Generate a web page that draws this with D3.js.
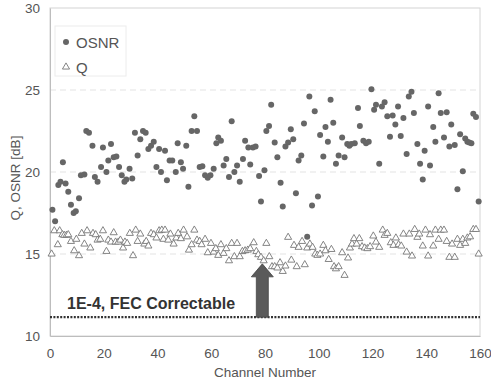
<!DOCTYPE html>
<html>
<head>
<meta charset="utf-8">
<script src="https://cdn.jsdelivr.net/npm/d3@7"></script>
<style>
  body { margin: 0; background: #fff; }
  text { font-family: "Liberation Sans", Arial, sans-serif; }
</style>
</head>
<body>
<div id="chart"></div>
<script>
// OSNR (dots): channel and value in dB
const osnrChannel = [0.9, 1.9, 3.1, 3.9, 4.8, 5.8, 6.8, 7.8, 8.8, 9.6, 10.8, 11.5, 12.8, 13.5, 14.5, 15.8, 16.7, 17.7, 19.0, 19.7,
  21.0, 21.7, 22.7, 23.7, 24.7, 25.7, 26.7, 27.7, 28.4, 29.6, 30.6, 31.6, 32.6, 33.6, 34.6, 35.6, 36.6, 37.6, 38.6, 39.6,
  40.6, 41.3, 42.8, 43.5, 44.5, 45.5, 46.8, 47.5, 48.7, 49.5, 50.7, 51.5, 52.7, 53.7, 54.7, 55.7, 56.7, 57.7, 58.7, 59.7,
  60.9, 61.9, 62.6, 63.6, 64.6, 65.6, 66.6, 67.6, 68.6, 69.6, 70.6, 71.8, 72.6, 73.8, 74.5, 75.5, 76.5, 77.8, 78.5, 79.8,
  80.5, 81.5, 82.3, 83.6, 84.6, 85.8, 86.6, 87.6, 88.6, 89.6, 90.5, 91.5, 92.5, 93.5, 94.5, 95.7, 96.5, 97.5, 98.5, 99.7,
  100.5, 101.7, 102.5, 103.4, 104.4, 105.4, 106.4, 107.4, 108.7, 109.6, 110.6, 111.4, 112.1, 113.4, 114.6, 115.3, 116.6, 117.6, 118.6, 119.6,
  120.6, 121.3, 122.5, 123.5, 124.5, 125.5, 126.5, 127.5, 128.5, 129.5, 130.5, 131.5, 132.7, 133.5, 134.5, 135.4, 136.7, 137.7, 138.7, 139.4,
  140.7, 141.4, 142.6, 143.4, 144.6, 145.4, 146.6, 147.6, 148.6, 149.3, 150.6, 151.6, 152.6, 153.6, 154.5, 155.3, 156.0, 156.8, 157.5, 158.5, 159.5];
const osnrValue = [17.7, 17.0, 19.2, 19.4, 20.6, 19.3, 18.8, 18.0, 17.5, 17.6, 18.4, 19.8, 19.85, 22.5, 22.4, 21.6, 19.7, 19.4, 20.3, 21.5,
  20.0, 20.7, 21.7, 20.9, 20.95, 20.3, 19.8, 19.4, 19.55, 20.2, 19.6, 22.4, 21.0, 22.0, 22.5, 22.4, 21.4, 21.6, 21.85, 20.3,
  21.4, 20.0, 21.3, 19.5, 20.7, 20.7, 20.0, 21.75, 20.6, 20.2, 21.6, 19.1, 22.5, 23.4, 22.5, 20.3, 20.35, 19.8, 19.65, 19.8,
  20.2, 21.75, 22.1, 21.9, 20.4, 20.8, 19.7, 23.1, 20.0, 20.4, 19.4, 20.8, 21.9, 21.5, 20.45, 21.5, 21.55, 19.75, 18.2, 20.1,
  22.5, 22.8, 24.1, 21.8, 20.9, 19.35, 17.9, 21.55, 21.8, 22.6, 22.0, 18.7, 20.7, 21.0, 22.95, 16.05, 24.6, 17.95, 23.7, 18.5,
  22.25, 20.95, 22.75, 21.85, 24.4, 23.0, 20.5, 21.0, 22.1, 20.9, 21.7, 21.6, 21.7, 21.75, 23.9, 22.8, 21.9, 21.75, 21.85, 25.05,
  23.8, 24.1, 20.5, 24.0, 24.25, 23.4, 22.15, 23.45, 22.9, 24.0, 22.2, 23.3, 21.1, 24.6, 24.9, 23.6, 21.7, 20.5, 19.55, 21.3,
  24.0, 20.4, 22.75, 21.85, 24.8, 23.6, 22.1, 23.65, 21.55, 22.9, 21.65, 18.95, 22.3, 20.05, 22.05, 21.85, 21.8, 21.75, 23.55, 23.35, 18.2];

// Q (triangles): channel and value in dB
const qChannel = [0.6, 1.6, 2.9, 3.6, 4.6, 5.3, 6.1, 6.8, 7.8, 9.0, 9.8, 10.8, 11.8, 12.8, 13.8, 15.0, 16.0, 17.0, 17.7, 18.7,
  19.7, 21.0, 21.7, 22.7, 23.7, 24.4, 25.4, 26.2, 27.2, 27.9, 28.7, 29.7, 30.9, 31.9, 32.6, 33.6, 35.1, 35.8, 36.6, 37.6,
  38.6, 39.6, 40.6, 41.6, 42.2, 42.8, 44.0, 44.8, 46.0, 47.0, 47.7, 48.7, 49.7, 51.0, 51.7, 52.7, 53.7, 54.7, 55.7, 56.4,
  57.7, 58.7, 59.9, 60.9, 61.7, 62.6, 63.6, 64.6, 65.6, 66.6, 67.6, 68.6, 69.6, 70.6, 71.6, 72.6, 73.6, 74.5, 75.8, 76.8,
  77.5, 78.5, 79.5, 80.5, 81.6, 82.6, 83.6, 84.6, 85.6, 86.6, 87.6, 88.6, 89.8, 90.8, 91.8, 92.5, 93.8, 94.8, 95.7, 96.7,
  97.7, 98.7, 99.5, 100.5, 101.7, 102.5, 103.7, 104.7, 105.7, 106.4, 107.4, 108.7, 109.6, 110.9, 111.6, 112.4, 113.1, 114.1, 115.1, 116.1,
  117.1, 118.1, 119.1, 120.3, 121.3, 122.5, 123.8, 124.5, 125.5, 126.8, 127.8, 128.7, 129.7, 130.7, 131.5, 132.7, 133.7, 134.7, 135.7, 136.7,
  137.4, 138.7, 139.7, 140.7, 141.4, 142.6, 143.4, 144.6, 145.4, 146.6, 147.6, 148.6, 149.6, 150.6, 151.6, 152.6, 153.6, 154.5, 155.3, 156.3,
  157.5, 158.5, 159.5];
const qValue = [15.0, 16.42, 15.57, 16.42, 16.18, 16.14, 16.14, 16.18, 15.77, 15.2, 15.9, 14.9, 16.26, 15.61, 16.42, 15.37, 16.26, 16.18, 15.85, 15.9,
  16.42, 15.16, 15.85, 15.73, 16.3, 15.73, 15.73, 15.85, 15.37, 15.73, 15.65, 16.26, 14.9, 16.46, 15.77, 16.22, 15.61, 15.77, 15.49, 16.26,
  16.18, 15.98, 16.42, 16.46, 15.9, 16.46, 15.85, 16.22, 15.61, 15.98, 16.26, 15.94, 16.46, 16.05, 15.24, 15.57, 16.46, 15.85, 15.77, 15.57,
  15.9, 15.08, 15.65, 15.12, 15.33, 14.92, 15.57, 15.04, 15.33, 14.59, 15.65, 14.84, 15.65, 14.84, 15.16, 15.2, 15.24, 15.33, 15.69, 15.16,
  14.96, 14.8, 14.59, 15.65, 14.84, 14.23, 14.23, 14.15, 14.47, 13.94, 14.27, 16.02, 14.63, 15.53, 14.23, 15.41, 15.77, 14.35, 15.37, 15.61,
  15.41, 15.0, 14.92, 15.0, 15.53, 15.2, 14.67, 15.28, 14.23, 14.1, 14.23, 15.08, 13.7, 14.76, 15.37, 15.61, 15.94, 15.61, 15.94, 15.45,
  15.37, 15.33, 15.45, 16.1, 15.73, 15.41, 16.46, 16.14, 16.26, 15.69, 15.53, 15.98, 15.57, 15.49, 16.22, 15.12, 16.22, 14.88, 16.5, 16.02,
  16.22, 15.49, 16.46, 14.88, 16.18, 15.49, 16.46, 15.9, 16.46, 16.46, 15.77, 14.8, 15.61, 14.8, 15.9, 15.53, 15.9, 15.65, 15.98, 16.05,
  16.5, 16.5, 15.0];

const xTicks = [0, 20, 40, 60, 80, 100, 120, 140, 160];
const yTicks = [10, 15, 20, 25, 30];
const gridValues = [15, 20, 25];
const fecLimit = 11.15;
const fecLabel = '1E-4, FEC Correctable';
const arrowChannel = 79;
const arrowTip = 14.4;
const legendItems = ['OSNR', 'Q'];

const W = 491;
const H = 385;
const margin = { top: 8, right: 11, bottom: 49, left: 50 };
const innerW = W - margin.left - margin.right;
const innerH = H - margin.top - margin.bottom;

const svg = d3.select('#chart')
  .append('svg')
  .attr('width', W)
  .attr('height', H);

const g = svg.append('g')
  .attr('transform', `translate(${margin.left}, ${margin.top})`);

const x = d3.scaleLinear().domain([0, 160]).range([0, innerW]);
const y = d3.scaleLinear().domain([10, 30]).range([innerH, 0]);

// dashed grid
g.append('g')
  .selectAll('line')
  .data(gridValues)
  .enter()
  .append('line')
  .attr('x1', 0)
  .attr('x2', innerW)
  .attr('y1', (d) => y(d))
  .attr('y2', (d) => y(d))
  .attr('stroke', '#e3e3e3')
  .attr('stroke-width', 1)
  .attr('stroke-dasharray', '6,4');

// plot frame
g.append('rect')
  .attr('x', 0)
  .attr('y', 0)
  .attr('width', innerW)
  .attr('height', innerH)
  .attr('fill', 'none')
  .attr('stroke', '#d4d4d4');

// axes
const xAxis = g.append('g')
  .attr('transform', `translate(0, ${innerH})`)
  .call(d3.axisBottom(x).tickValues(xTicks).tickSize(0).tickPadding(12));
const yAxis = g.append('g')
  .call(d3.axisLeft(y).tickValues(yTicks).tickSize(0).tickPadding(10));
[xAxis, yAxis].forEach((a) => {
  a.select('.domain').attr('stroke', '#bdbdbd');
  a.selectAll('text')
    .attr('fill', '#555')
    .style('font-size', '13.5px')
    .style('font-family', '"Liberation Sans", Arial, sans-serif');
});

svg.append('text')
  .attr('x', margin.left + innerW / 2)
  .attr('y', 377)
  .attr('text-anchor', 'middle')
  .attr('fill', '#555')
  .style('font-size', '13.5px')
  .text('Channel Number');

svg.append('text')
  .attr('transform', `translate(20, 178) rotate(-90)`)
  .attr('text-anchor', 'middle')
  .attr('fill', '#555')
  .style('font-size', '13.5px')
  .text('Q, OSNR [dB]');

// FEC limit
g.append('line')
  .attr('x1', 0)
  .attr('x2', innerW)
  .attr('y1', y(fecLimit))
  .attr('y2', y(fecLimit))
  .attr('stroke', '#333')
  .attr('stroke-width', 2.4)
  .attr('stroke-dasharray', '2,1.4');

g.append('text')
  .attr('x', 17)
  .attr('y', y(fecLimit) - 8)
  .attr('fill', '#333')
  .style('font-size', '16px')
  .style('font-weight', 'bold')
  .text(fecLabel);

// arrow
const ax = x(arrowChannel);
const aTop = y(arrowTip);
const aBot = y(fecLimit);
const headH = 13;
g.append('path')
  .attr('d', `M${ax - 6},${aBot} L${ax - 6},${aTop + headH} L${ax - 11},${aTop + headH} L${ax},${aTop}
    L${ax + 11},${aTop + headH} L${ax + 6},${aTop + headH} L${ax + 6},${aBot} Z`)
  .attr('fill', '#5a5a5a')
  .attr('stroke', '#444')
  .attr('stroke-width', 0.8);

// Q triangles
const tri = d3.symbol().type(d3.symbolTriangle).size(22);
g.append('g')
  .selectAll('path')
  .data(qChannel.map((c, i) => ({ c, v: qValue[i] })))
  .enter()
  .append('path')
  .attr('d', tri)
  .attr('transform', (d) => `translate(${x(d.c)}, ${y(d.v)})`)
  .attr('fill', '#fff')
  .attr('stroke', '#777')
  .attr('stroke-width', 0.9);

// OSNR dots
g.append('g')
  .selectAll('circle')
  .data(osnrChannel.map((c, i) => ({ c, v: osnrValue[i] })))
  .enter()
  .append('circle')
  .attr('cx', (d) => x(d.c))
  .attr('cy', (d) => y(d.v))
  .attr('r', 3)
  .attr('fill', '#666');

// legend
const lg = svg.append('g').attr('transform', 'translate(55, 26)');
lg.append('rect')
  .attr('width', 71)
  .attr('height', 50)
  .attr('fill', '#fff')
  .attr('stroke', '#ececec');
lg.append('circle')
  .attr('cx', 11)
  .attr('cy', 16)
  .attr('r', 3)
  .attr('fill', '#666');
lg.append('path')
  .attr('d', tri)
  .attr('transform', 'translate(11, 41)')
  .attr('fill', '#fff')
  .attr('stroke', '#777')
  .attr('stroke-width', 0.9);
lg.selectAll('text.lbl')
  .data(legendItems)
  .enter()
  .append('text')
  .attr('class', 'lbl')
  .attr('x', 21)
  .attr('y', (d, i) => 21.5 + i * 25)
  .attr('fill', '#555')
  .style('font-size', '15px')
  .text((d) => d);
</script>
</body>
</html>
